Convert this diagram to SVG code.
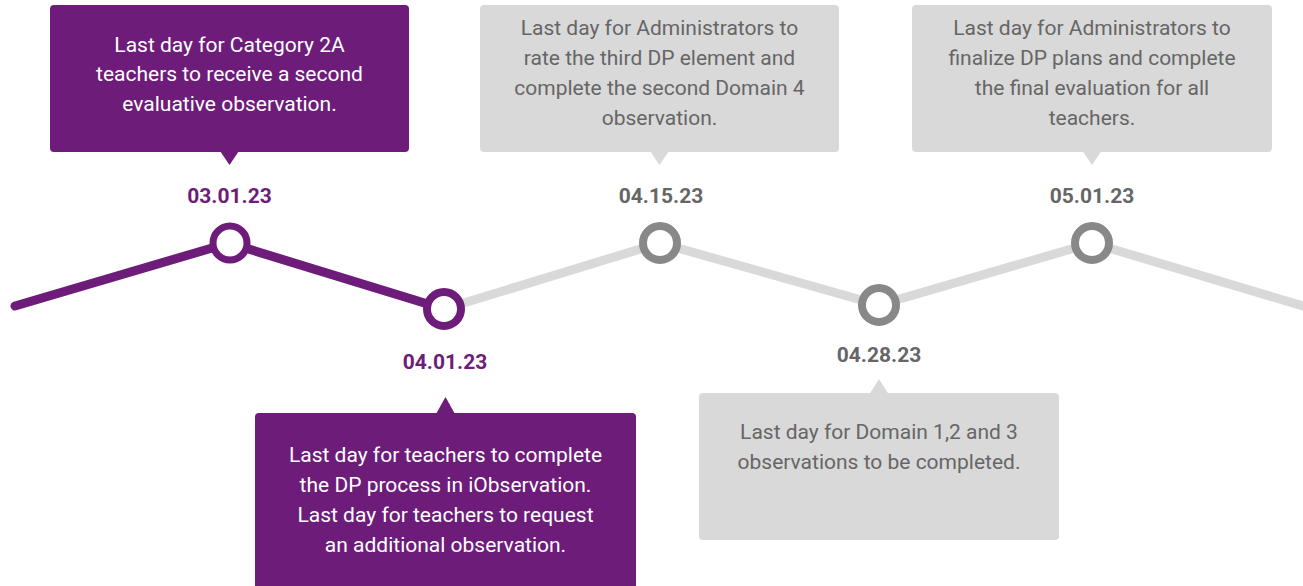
<svg xmlns="http://www.w3.org/2000/svg" width="1303" height="586" viewBox="0 0 1303 586">
  <style>
    .body { font-family: Roboto, "Liberation Sans", sans-serif; font-size: 21px; text-anchor: middle; }
    .date { font-family: Roboto, "Liberation Sans", sans-serif; font-size: 21px; font-weight: bold; text-anchor: middle; }
    .on-purple { fill: #ffffff; }
    .on-gray { fill: #666666; }
    .box-purple { fill: #6d1c79; }
    .box-gray { fill: #d9d9d9; }
    .date-purple { fill: #6d1c79; }
    .date-gray { fill: #666666; }
    .ring-purple { fill: #ffffff; stroke: #6d1c79; stroke-width: 7; }
    .ring-purple-lg { fill: #ffffff; stroke: #6d1c79; stroke-width: 8; }
    .ring-gray { fill: #ffffff; stroke: #888888; stroke-width: 8; }
  </style>

  <!-- timeline track -->
  <g id="connectors" fill="none" stroke-linecap="round" stroke-linejoin="round" stroke-width="9">
    <polyline points="444,309 660,243 879,305 1092,243 1320,311" stroke="#d9d9d9"/>
    <polyline points="15,306 229,243 444,309" stroke="#6d1c79"/>
  </g>

  <!-- 03.01.23 -->
  <g id="m1">
    <rect class="box-purple" x="50" y="5" width="359" height="147" rx="4"/>
    <polygon class="box-purple" points="220,151 239,151 229.5,165"/>
    <text class="body on-purple" x="229.5" y="52">Last day for Category 2A</text>
    <text class="body on-purple" x="229.5" y="81">teachers to receive a second</text>
    <text class="body on-purple" x="229.5" y="111">evaluative observation.</text>
    <text class="date date-purple" x="229.5" y="203">03.01.23</text>
    <circle class="ring-purple" cx="230" cy="243" r="17"/>
  </g>

  <!-- 04.01.23 -->
  <g id="m2">
    <circle class="ring-purple-lg" cx="444" cy="309" r="17"/>
    <text class="date date-purple" x="445" y="369">04.01.23</text>
    <polygon class="box-purple" points="436,414 455,414 445.5,397"/>
    <rect class="box-purple" x="255" y="413" width="381" height="185" rx="4"/>
    <text class="body on-purple" x="445.5" y="462">Last day for teachers to complete</text>
    <text class="body on-purple" x="445.5" y="492">the DP process in iObservation.</text>
    <text class="body on-purple" x="445.5" y="522">Last day for teachers to request</text>
    <text class="body on-purple" x="445.5" y="552">an additional observation.</text>
  </g>

  <!-- 04.15.23 -->
  <g id="m3">
    <rect class="box-gray" x="480" y="5" width="359" height="147" rx="4"/>
    <polygon class="box-gray" points="650,151 669,151 659.5,165"/>
    <text class="body on-gray" x="659.5" y="35">Last day for Administrators to</text>
    <text class="body on-gray" x="659.5" y="65">rate the third DP element and</text>
    <text class="body on-gray" x="659.5" y="95">complete the second Domain 4</text>
    <text class="body on-gray" x="659.5" y="125">observation.</text>
    <text class="date date-gray" x="661" y="203">04.15.23</text>
    <circle class="ring-gray" cx="660" cy="243" r="17"/>
  </g>

  <!-- 04.28.23 -->
  <g id="m4">
    <circle class="ring-gray" cx="879" cy="305" r="17"/>
    <text class="date date-gray" x="879" y="362">04.28.23</text>
    <polygon class="box-gray" points="869.5,394 888.5,394 879,379"/>
    <rect class="box-gray" x="699" y="393" width="360" height="147" rx="4"/>
    <text class="body on-gray" x="879" y="439">Last day for Domain 1,2 and 3</text>
    <text class="body on-gray" x="879" y="469">observations to be completed.</text>
  </g>

  <!-- 05.01.23 -->
  <g id="m5">
    <rect class="box-gray" x="912" y="5" width="360" height="147" rx="4"/>
    <polygon class="box-gray" points="1082.5,151 1101.5,151 1092,165"/>
    <text class="body on-gray" x="1092" y="35">Last day for Administrators to</text>
    <text class="body on-gray" x="1092" y="65">finalize DP plans and complete</text>
    <text class="body on-gray" x="1092" y="95">the final evaluation for all</text>
    <text class="body on-gray" x="1092" y="125">teachers.</text>
    <text class="date date-gray" x="1092" y="203">05.01.23</text>
    <circle class="ring-gray" cx="1092" cy="243" r="17"/>
  </g>
</svg>
